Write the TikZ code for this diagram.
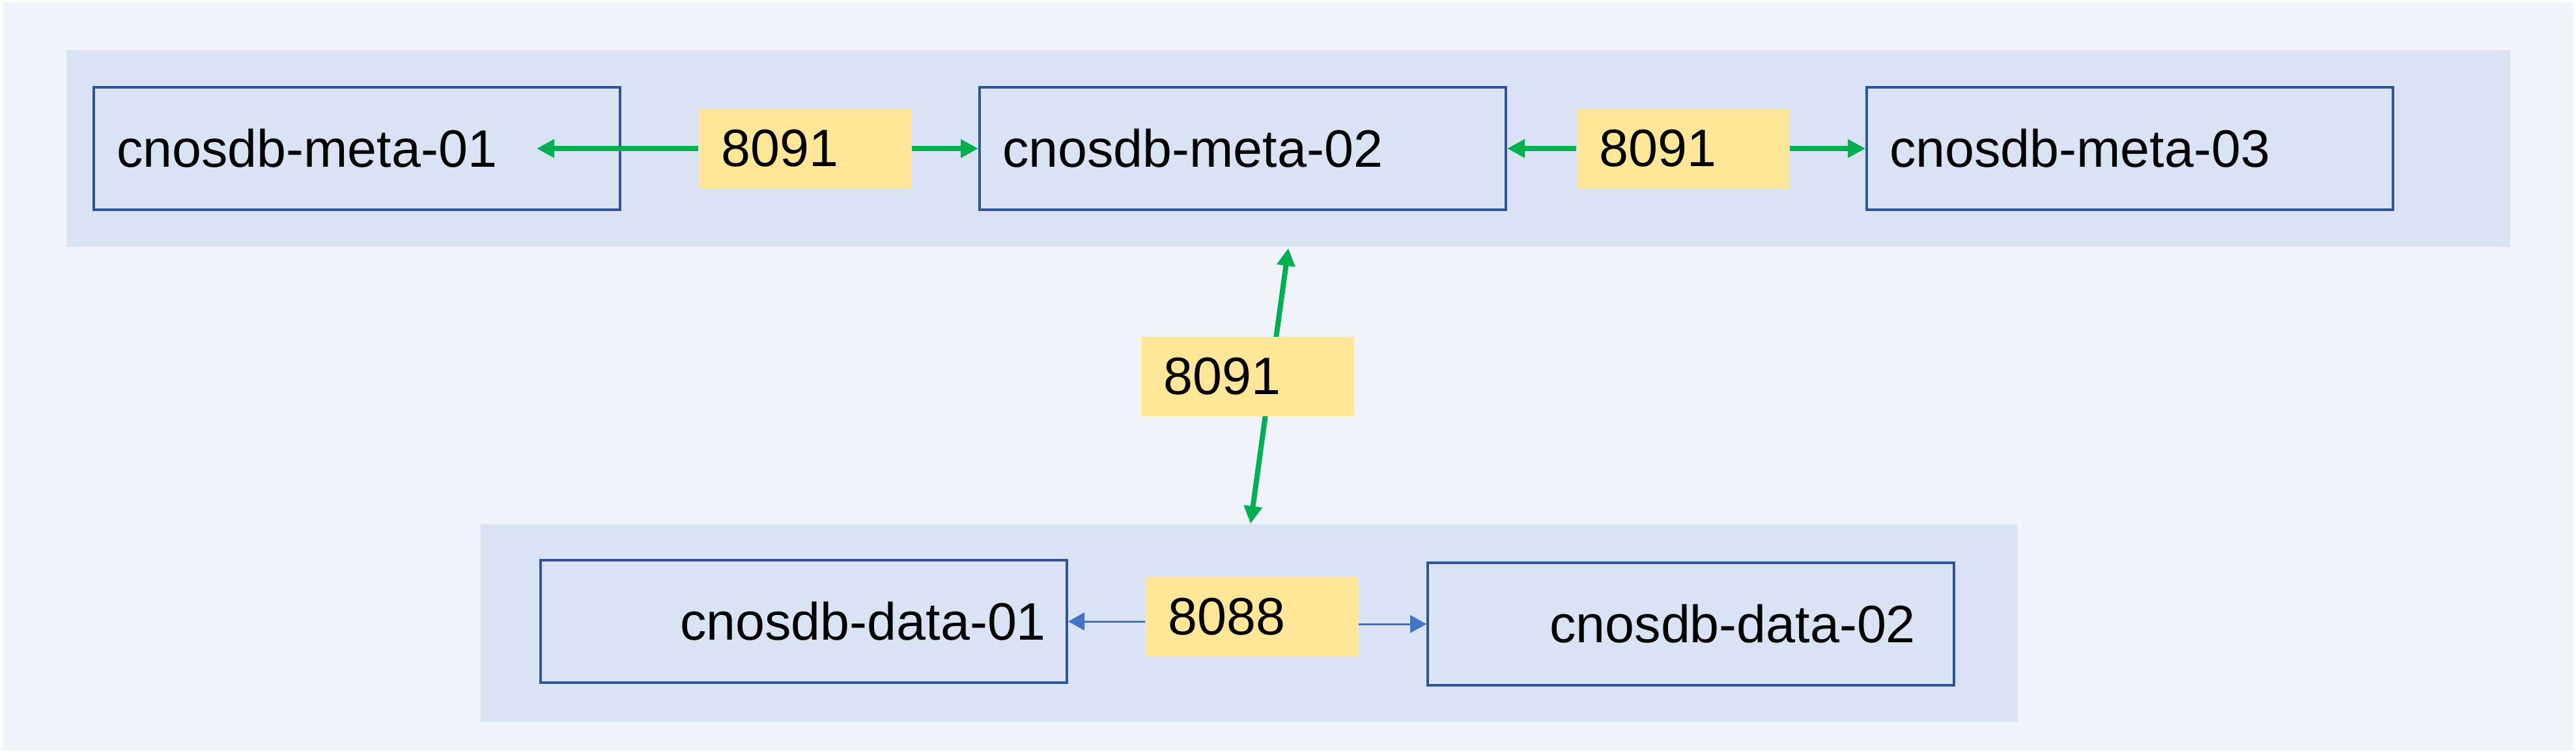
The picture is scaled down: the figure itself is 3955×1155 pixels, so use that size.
\documentclass[tikz,border=0pt]{standalone}
\usepackage{fontspec}
\setmainfont{Liberation Sans}
\usetikzlibrary{arrows.meta}
\definecolor{pagebg}{HTML}{F1F4FB}
\definecolor{panelbg}{HTML}{DAE3F3}
\definecolor{boxline}{HTML}{2F5597}
\definecolor{portyellow}{HTML}{FFE699}
\definecolor{linkgreen}{HTML}{00B050}
\definecolor{linkblue}{HTML}{4472C4}

\begin{document}
\begin{tikzpicture}[
    x=0.1mm, y=-0.1mm,
    font=\fontsize{23}{27}\selectfont,
    server/.style={rectangle, draw=boxline, line width=0.4mm, minimum width=80.8mm, minimum height=18.8mm, inner xsep=3.5mm, text width=73.8mm, align=left},
    port/.style={rectangle, fill=portyellow, minimum width=32.7mm, minimum height=12.2mm, inner xsep=3.5mm, text width=25.7mm, align=left},
    greenarrow/.style={-{Triangle[length=2.7mm, width=2.7mm]}, linkgreen, line width=0.8mm},
    bluearrow/.style={-{Triangle[length=2.5mm, width=2.7mm]}, linkblue, line width=0.3mm}
]
    \useasboundingbox (0, 0) rectangle (3955, 1155);

    % Panels
    \fill[pagebg] (4, 3) rectangle (3951, 1152);
    \fill[panelbg] (102, 77) rectangle (3854, 379);
    \fill[panelbg] (738, 805) rectangle (3098, 1108);

    % Meta nodes
    \node[server] (meta1) at (548, 228) {cnosdb-meta-01};
    \node[server] (meta2) at (1908, 228) {cnosdb-meta-02};
    \node[server] (meta3) at (3270, 228) {cnosdb-meta-03};
    \node[port] (port1) at (1236, 228) {8091};
    \node[port] (port2) at (2584, 228) {8091};

    % Data nodes
    \node[server, align=right, inner xsep=3.2mm, text width=74.4mm] (data1) at (1234, 954) {cnosdb-data-01};
    \node[server, align=right, inner xsep=5.9mm, text width=69mm] (data2) at (2596, 958) {cnosdb-data-02};
    \node[port] (port4) at (1922, 947) {8088};

    % Arrows
    \coordinate (meta1in) at (824, 228);
    \coordinate (uplink) at (1978, 381);
    \coordinate (downlink) at (1920, 804);
    \draw[greenarrow] (port1) -- (meta1in);
    \draw[greenarrow] (port1) -- (meta2);
    \draw[greenarrow] (port2) -- (meta2);
    \draw[greenarrow] (port2) -- (meta3);
    \draw[greenarrow, {Triangle[length=2.7mm, width=2.7mm]}-{Triangle[length=2.7mm, width=2.7mm]}] (downlink) -- (uplink);
    \draw[bluearrow] (port4.west |- data1.east) -- (data1.east);
    \draw[bluearrow] (port4.east |- data2.west) -- (data2.west);

    \node[port] (port3) at (1915, 578) {8091};
\end{tikzpicture}
\end{document}
